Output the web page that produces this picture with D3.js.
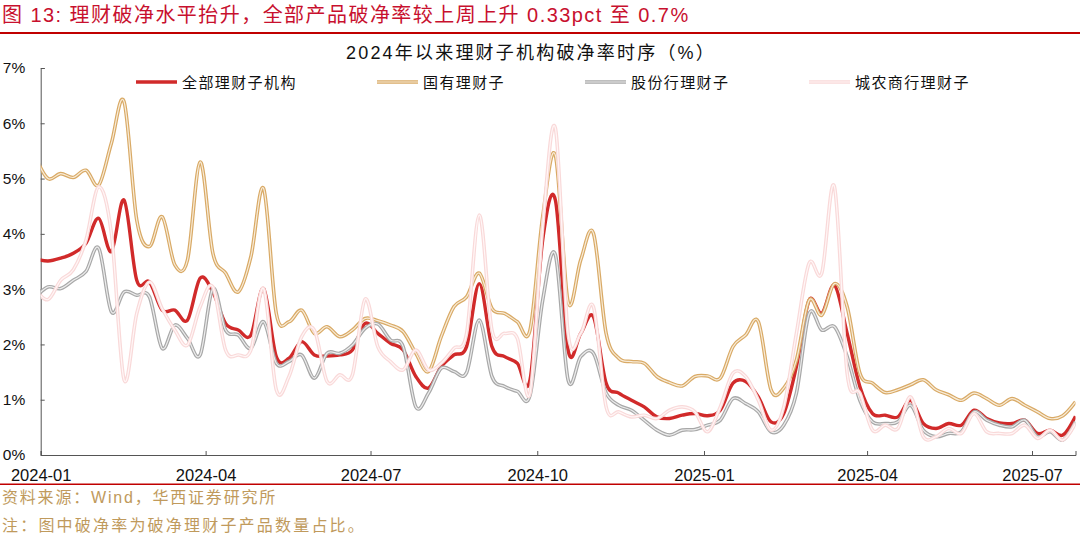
<!DOCTYPE html>
<html><head><meta charset="utf-8">
<script src="https://cdn.jsdelivr.net/npm/d3@7"></script>
<style>body{margin:0;background:#fff}svg{display:block}</style>
</head><body>
<svg id="c" width="1080" height="537"></svg>
<script>
// weekly observations (Fridays), first one 2023-12-29
const firstDate = "2023-12-29";
const seriesNames = ["全部理财子机构", "国有理财子", "股份行理财子", "城农商行理财子"];
const allRate = [3.55,3.51,3.56,3.65,3.83,4.28,3.68,4.61,3.16,3.13,2.62,2.62,2.44,3.20,2.95,2.38,2.26,2.17,3.01,1.78,1.75,2.05,1.81,1.79,1.81,1.90,
  2.38,2.20,2.02,1.90,1.42,1.21,1.60,1.81,1.96,3.10,1.96,1.78,1.66,1.36,3.89,4.61,1.90,2.20,2.50,1.30,1.12,0.99,0.87,0.69,0.66,0.72,0.75,0.71,
  0.81,1.30,1.33,1.05,0.60,0.75,1.60,2.80,2.56,3.07,2.20,1.24,0.75,0.72,0.69,0.99,0.57,0.48,0.57,0.54,0.81,0.66,0.58,0.57,0.63,0.39,0.45,0.36,0.70];
const stateOwned = [5.40,5.00,5.09,5.02,5.15,4.88,5.64,6.39,4.25,3.77,4.31,3.44,3.53,5.30,3.65,3.29,2.95,3.59,4.82,2.56,2.41,2.62,2.20,2.32,2.14,2.26,
  2.47,2.43,2.35,2.23,1.84,1.51,2.14,2.68,2.86,3.29,2.65,2.56,2.41,2.26,4.31,5.42,2.77,3.53,4.01,2.20,1.75,1.69,1.66,1.42,1.31,1.25,1.42,1.43,
  1.39,1.96,2.17,2.41,1.18,1.21,1.72,2.80,2.53,3.10,2.68,1.48,1.30,1.13,1.18,1.27,1.36,1.18,1.09,0.99,1.12,1.02,0.90,1.02,0.90,0.78,0.66,0.71,0.96];
const jointStock = [2.85,3.04,3.01,3.16,3.32,3.74,2.59,2.95,2.89,2.86,1.93,2.35,2.11,1.81,3.01,2.26,2.17,1.93,2.41,1.66,1.69,1.81,1.39,1.84,1.84,1.99,
  2.29,2.37,2.08,1.96,0.87,1.12,1.57,1.51,1.49,2.44,1.42,1.24,1.15,1.08,2.80,3.62,1.36,1.78,1.84,1.12,0.90,0.81,0.63,0.45,0.36,0.45,0.46,0.54,
  0.63,1.02,0.93,0.78,0.42,0.54,1.12,2.56,2.26,2.32,1.78,0.99,0.60,0.57,0.60,0.90,0.45,0.33,0.39,0.42,0.78,0.63,0.54,0.51,0.63,0.33,0.42,0.27,0.60];
const cityRural = [3.00,2.81,3.16,3.35,3.89,4.85,4.01,1.36,2.56,3.13,2.65,2.26,1.99,2.68,3.04,1.90,1.81,1.90,3.01,1.18,1.42,2.14,2.26,1.33,1.45,1.45,
  2.82,1.96,1.69,1.54,1.90,1.54,1.66,1.93,2.20,4.34,2.26,2.20,2.11,1.12,4.13,5.91,2.20,2.20,2.68,0.87,0.78,0.69,0.72,0.66,0.81,0.87,0.78,0.42,
  0.87,1.48,1.42,0.99,0.45,0.87,2.20,3.47,3.29,4.85,1.48,1.12,0.45,0.54,0.48,1.05,0.33,0.33,0.48,0.39,0.75,0.42,0.39,0.39,0.54,0.30,0.45,0.27,0.57];
const yTickValues = [0, 1, 2, 3, 4, 5, 6, 7];
const xTickLabels = ["2024-01", "2024-04", "2024-07", "2024-10", "2025-01", "2025-04", "2025-07"];

const svg = d3.select("#c");
const parse = d3.timeParse("%Y-%m-%d");
const parseM = d3.timeParse("%Y-%m");
const d0 = parse(firstDate);
const dates = allRate.map((_, i) => d3.timeDay.offset(d0, 7 * i));

const x = d3.scaleTime().domain([parse("2024-01-01"), parse("2025-07-25")]).range([40.7, 1075.5]);
const y = d3.scaleLinear().domain([0, 7]).range([455, 68]);
const CJK = "'Noto Sans CJK SC', sans-serif";
const LAT = "Arial, 'Liberation Sans', sans-serif";
const MIX = "Arial, 'Liberation Sans', 'Noto Sans CJK SC', sans-serif";

// header
svg.append("text").attr("x", 2).attr("y", 21.5)
  .attr("font-family", MIX).attr("font-size", 20)
  .attr("letter-spacing", 1.45)
  .attr("fill", "#c8102e").text("图 13: 理财破净水平抬升，全部产品破净率较上周上升 0.33pct 至 0.7%");
svg.append("rect").attr("x", 0).attr("y", 32).attr("width", 1080).attr("height", 2).attr("fill", "#c00000");
svg.append("rect").attr("x", 0).attr("y", 483.5).attr("width", 1080).attr("height", 1.5).attr("fill", "#c00000");

svg.append("text").attr("x", 531).attr("y", 58.5).attr("text-anchor", "middle")
  .attr("font-family", MIX).attr("font-size", 18)
  .attr("letter-spacing", 2.2)
  .attr("fill", "#111").text("2024年以来理财子机构破净率时序（%）");

// axes
const yAxis = d3.axisLeft(y).tickValues(yTickValues).tickSize(-4).tickPadding(15.5)
  .tickFormat(d => d + "%");
const gy = svg.append("g").attr("transform", "translate(40.7,0)").call(yAxis);
gy.selectAll("text").attr("font-family", LAT).attr("font-size", 15.5).attr("fill", "#111");
gy.selectAll("line, path").attr("stroke", "#555");

const xAxis = d3.axisBottom(x).tickValues(xTickLabels.map(parseM)).tickSize(-4).tickPadding(14)
  .tickFormat(d3.timeFormat("%Y-%m"));
const gx = svg.append("g").attr("transform", "translate(0,455)").call(xAxis);
gx.selectAll("text").attr("font-family", LAT).attr("font-size", 16.5).attr("fill", "#111");
gx.selectAll("line, path").attr("stroke", "#555");

// clip
svg.append("clipPath").attr("id", "clip").append("rect")
  .attr("x", 40.7).attr("y", 40).attr("width", 1075.5 - 40.7).attr("height", 416);

const line = d3.line().x((d, i) => x(dates[i])).y(d => y(d)).curve(d3.curveCatmullRom.alpha(0));
const plot = svg.append("g").attr("clip-path", "url(#clip)");

const styles = [
  {data: allRate, outer: "#d12a2a", ow: 3.4, inner: null},
  {data: stateOwned, outer: "#d9aa66", ow: 3.6, inner: "#f8ecd9", iw: 1.2},
  {data: jointStock, outer: "#a8a8a8", ow: 3.6, inner: "#ededed", iw: 1.2},
  {data: cityRural, outer: "#f9d9d9", ow: 3.6, inner: "#fff6f6", iw: 1.2}
];
styles.forEach(s => {
  plot.append("path").attr("d", line(s.data)).attr("fill", "none")
    .attr("stroke", s.outer).attr("stroke-width", s.ow).attr("stroke-linejoin", "round");
  if (s.inner) plot.append("path").attr("d", line(s.data)).attr("fill", "none")
    .attr("stroke", s.inner).attr("stroke-width", s.iw);
});

// legend
const legX = [136, 377, 585, 809];
const lg = svg.append("g");
seriesNames.forEach((n, i) => {
  const s = styles[i];
  lg.append("line").attr("x1", legX[i]).attr("x2", legX[i] + 41).attr("y1", 82).attr("y2", 82)
    .attr("stroke", s.outer).attr("stroke-width", s.ow);
  if (s.inner) lg.append("line").attr("x1", legX[i]).attr("x2", legX[i] + 41).attr("y1", 82).attr("y2", 82)
    .attr("stroke", s.inner).attr("stroke-width", s.iw);
  lg.append("text").attr("x", legX[i] + 46).attr("y", 87.5)
    .attr("font-family", CJK).attr("font-size", 15).attr("letter-spacing", 1.4)
    .attr("fill", "#111").text(n);
});

// footer
svg.append("text").attr("x", 2).attr("y", 503)
  .attr("font-family", MIX).attr("font-size", 16)
  .attr("letter-spacing", 1.8)
  .attr("fill", "#c09a5c").text("资料来源：Wind，华西证券研究所");
svg.append("text").attr("x", 2).attr("y", 531)
  .attr("font-family", CJK).attr("font-size", 16).attr("letter-spacing", 2.2)
  .attr("fill", "#c09a5c").text("注：图中破净率为破净理财子产品数量占比。");
</script>
</body></html>
